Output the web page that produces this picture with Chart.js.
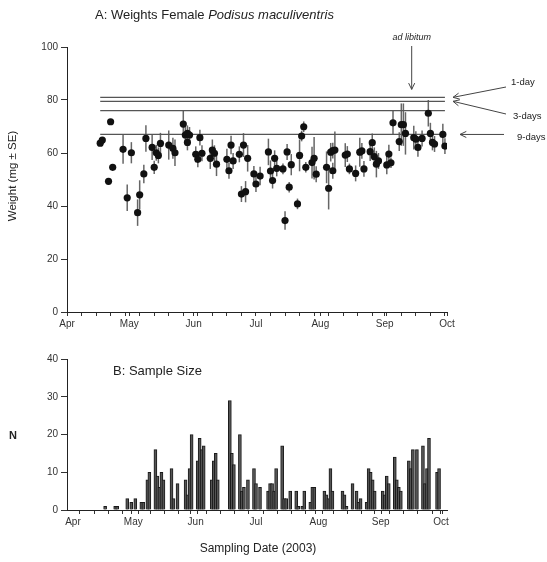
<!DOCTYPE html>
<html>
<head>
<meta charset="utf-8">
<script src="https://cdn.jsdelivr.net/npm/chart.js@4.4.1/dist/chart.umd.min.js"></script>
<style>
    body { margin: 0; background: #fff; width: 547px; height: 562px; overflow: hidden; position: relative; }
    canvas { position: absolute; left: 0; }
    #weightChart { top: 0; }
    #sizeChart { top: 330px; }
</style>
</head>
<body>
<canvas id="weightChart" width="547" height="330"></canvas>
<canvas id="sizeChart" width="547" height="232"></canvas>
<script>
// giorni contati dal 1 aprile 2003
const monthTicks = [0, 30, 61, 91, 122, 153, 183];
const monthLabels = ['Apr', 'May', 'Jun', 'Jul', 'Aug', 'Sep', 'Oct'];

// A: pesi medi (mg) e errore standard
const weightDays = [16, 17, 20, 21, 22, 27, 29, 31, 34, 35, 37, 38, 41, 42, 43, 44, 45, 49, 51, 52,
    56, 57, 58, 58, 59, 62, 63, 64, 65, 69, 70, 71, 72, 77, 78, 79, 80, 83, 84, 85,
    86, 87, 90, 91, 93, 97, 98, 99, 100, 101, 104, 105, 106, 107, 108, 111, 112, 113, 114, 115,
    118, 119, 120, 125, 126, 127, 128, 128, 129, 134, 135, 136, 139, 141, 142, 143, 146, 147, 148, 149,
    150, 154, 155, 156, 157, 160, 161, 162, 163, 167, 168, 169, 171, 174, 175, 176, 177, 181, 182];
const weightMeans = [63.7, 64.9, 49.3, 71.8, 54.6, 61.4, 43.1, 60.1, 37.5, 44.2, 52.1, 65.5, 62.1, 54.6, 60.1, 59.1, 63.6, 63.0, 61.8, 60.1,
    70.9, 66.8, 64.0, 67.4, 66.8, 59.5, 57.6, 65.8, 59.9, 58.0, 61.1, 59.9, 55.8, 57.6, 53.3, 63.0, 57.0, 59.5, 44.5, 63.0,
    45.4, 58.0, 52.1, 48.3, 51.3, 60.4, 53.2, 49.6, 58.0, 54.2, 54.0, 34.5, 60.4, 47.1, 55.6, 40.8, 59.1, 66.4, 69.9, 54.6,
    56.4, 58.0, 52.0, 54.6, 46.7, 60.3, 53.3, 60.9, 61.1, 59.2, 59.6, 54.0, 52.3, 60.3, 60.8, 54.0, 60.5, 63.9, 58.6, 55.8,
    57.0, 55.5, 59.6, 56.3, 71.4, 64.3, 70.7, 70.7, 67.4, 65.8, 65.2, 62.1, 65.5, 75.0, 67.4, 64.0, 63.4, 67.0, 62.6];
const weightSE = [1, 1, 1, 1, 1, 5.5, 5, 4, 5, 5.5, 3.5, 5, 4.7, 2.5, 3, 3, 4, 5.5, 4, 5,
    5, 3, 3, 3, 3, 3, 3, 3, 3, 4, 4, 3, 4.5, 4, 3, 3.5, 3, 3, 3, 4.5,
    4, 5, 3, 3, 3.5, 5, 4, 3, 3, 3, 2, 3.5, 3, 2, 4, 2, 6, 2, 2, 2,
    6, 8, 3, 6, 8, 3.5, 3, 3, 7, 4.5, 3, 2, 3, 5.5, 3, 3, 3.5, 3.5, 3.5, 5,
    3, 3.5, 3.5, 2, 4.5, 3.5, 8, 8, 8, 4.5, 3, 3.5, 3, 5, 4, 3, 3, 4, 3];

// linee di riferimento (1-day, 3-days, ad libitum, 9-days)
const refLevels = [81, 79.5, 76, 67];
const refStart = 16;
const refEnd = 182;

// B: numerosità del campione
const sampleDays = [16, 21, 22, 27, 29, 31, 34, 35, 37, 38, 41, 42, 43, 44, 45, 49, 50, 52, 56, 57,
    58, 59, 62, 63, 64, 65, 69, 70, 71, 72, 78, 79, 80, 83, 84, 85, 87, 90, 91, 93,
    97, 98, 99, 100, 101, 104, 105, 106, 108, 111, 112, 114, 115, 118, 119, 120, 125, 126, 127, 128,
    129, 134, 135, 136, 139, 141, 142, 143, 146, 147, 148, 149, 150, 154, 155, 156, 157, 160, 161, 162,
    163, 167, 168, 169, 171, 174, 175, 176, 177, 181, 182];
const sampleN = [1, 1, 1, 3, 2, 3, 2, 2, 8, 10, 16, 9, 6, 10, 8, 11, 3, 7, 8, 4,
    11, 20, 13, 19, 16, 17, 8, 13, 15, 8, 29, 15, 12, 20, 5, 6, 8, 11, 7, 6,
    5, 7, 7, 5, 11, 17, 3, 3, 5, 5, 1, 1, 5, 2, 6, 6, 5, 4, 3, 11,
    5, 5, 4, 1, 7, 5, 2, 3, 2, 11, 10, 8, 5, 5, 4, 9, 7, 14, 8, 6,
    5, 13, 11, 16, 16, 17, 7, 11, 19, 10, 11];

const FONT = "'Liberation Sans', Arial, sans-serif";
const INK = '#222';

// tacche settimanali più quelle di inizio mese
const axisTicks = [...monthTicks];
for (let d = 0; d <= 182; d += 7) {
    if (!axisTicks.includes(d)) axisTicks.push(d);
}
axisTicks.sort((a, b) => a - b);

function dateAxis(height) {
    return {
        type: 'linear',
        min: 0,
        max: 183,
        afterBuildTicks: scale => { scale.ticks = axisTicks.map(v => ({ value: v })); },
        afterFit: scale => { scale.height = height; },
        grid: { drawOnChartArea: false, drawTicks: true, tickLength: 4, color: '#333' },
        border: { display: true, color: INK, width: 1 },
        ticks: {
            autoSkip: false,
            maxRotation: 0,
            padding: 2,
            color: '#333',
            font: { family: FONT, size: 10 },
            callback: function (value) {
                const i = monthTicks.indexOf(value);
                return i >= 0 ? monthLabels[i] : '';
            }
        }
    };
}

function valueAxis(max, step) {
    return {
        min: 0,
        max: max,
        afterFit: scale => { scale.width = 67; },
        grid: { drawOnChartArea: false, drawTicks: true, tickLength: 6, color: '#333' },
        border: { display: true, color: INK, width: 1 },
        ticks: { stepSize: step, padding: 3, color: '#333', font: { family: FONT, size: 10 } }
    };
}

function arrow(ctx, x1, y1, x2, y2) {
    const a = Math.atan2(y2 - y1, x2 - x1);
    const h = 7;
    ctx.beginPath();
    ctx.moveTo(x1, y1);
    ctx.lineTo(x2, y2);
    ctx.moveTo(x2 - h * Math.cos(a - 0.45), y2 - h * Math.sin(a - 0.45));
    ctx.lineTo(x2, y2);
    ctx.lineTo(x2 - h * Math.cos(a + 0.45), y2 - h * Math.sin(a + 0.45));
    ctx.stroke();
}

const errorBars = {
    id: 'errorBars',
    beforeDatasetsDraw(chart) {
        const { ctx, scales: { x, y } } = chart;
        ctx.save();
        ctx.strokeStyle = '#666';
        ctx.lineWidth = 1.5;
        weightDays.forEach((d, i) => {
            const px = x.getPixelForValue(d);
            ctx.beginPath();
            ctx.moveTo(px, y.getPixelForValue(weightMeans[i] - weightSE[i]));
            ctx.lineTo(px, y.getPixelForValue(weightMeans[i] + weightSE[i]));
            ctx.stroke();
        });
        ctx.restore();
    }
};

const weightText = {
    id: 'weightText',
    afterDraw(chart) {
        const { ctx, scales: { x, y } } = chart;
        ctx.save();
        ctx.fillStyle = INK;
        ctx.strokeStyle = '#444';
        ctx.lineWidth = 1;

        // titolo con nome della specie in corsivo
        ctx.font = `13px ${FONT}`;
        ctx.textAlign = 'left';
        ctx.textBaseline = 'alphabetic';
        const part = 'A: Weights Female ';
        ctx.fillText(part, 95, 19);
        const w = ctx.measureText(part).width;
        ctx.font = `italic 13px ${FONT}`;
        ctx.fillText('Podisus maculiventris', 95 + w, 19);

        // titolo asse y
        ctx.font = `11.5px ${FONT}`;
        ctx.save();
        ctx.translate(16, 176);
        ctx.rotate(-Math.PI / 2);
        ctx.textAlign = 'center';
        ctx.fillText('Weight (mg \u00b1 SE)', 0, 0);
        ctx.restore();

        // ad libitum
        const ax = x.getPixelForValue(166);
        ctx.font = `italic 9px ${FONT}`;
        ctx.textAlign = 'center';
        ctx.fillText('ad libitum', ax, 40);
        arrow(ctx, ax, 46, ax, y.getPixelForValue(84));

        // etichette a destra
        ctx.font = `9.5px ${FONT}`;
        ctx.textAlign = 'left';
        ctx.fillText('1-day', 511, 85);
        ctx.fillText('3-days', 513, 119);
        ctx.fillText('9-days', 517, 140);
        const right = x.right;
        arrow(ctx, 506, 87, right + 6, y.getPixelForValue(refLevels[0]));
        arrow(ctx, 506, 114, right + 6, y.getPixelForValue(refLevels[1]));
        arrow(ctx, 504, y.getPixelForValue(refLevels[3]), right + 13, y.getPixelForValue(refLevels[3]));
        ctx.restore();
    }
};

const sizeText = {
    id: 'sizeText',
    afterDraw(chart) {
        const { ctx, chartArea } = chart;
        ctx.save();
        ctx.fillStyle = INK;
        ctx.font = `13px ${FONT}`;
        ctx.textAlign = 'left';
        ctx.fillText('B: Sample Size', 113, 45);
        ctx.font = `bold 11px ${FONT}`;
        ctx.textAlign = 'center';
        ctx.fillText('N', 13, 109);
        ctx.font = `12px ${FONT}`;
        ctx.fillText('Sampling Date (2003)', (chartArea.left + chartArea.right) / 2 + 1, 222);
        ctx.restore();
    }
};

const refDatasets = refLevels.map(level => ({
    type: 'line',
    data: [{ x: refStart, y: level }, { x: refEnd, y: level }],
    borderColor: '#555',
    borderWidth: 1.3,
    pointRadius: 0,
    order: 2
}));

new Chart(document.getElementById('weightChart'), {
    type: 'scatter',
    data: {
        datasets: [
            {
                data: weightDays.map((d, i) => ({ x: d, y: weightMeans[i] })),
                backgroundColor: '#111',
                borderWidth: 0,
                pointRadius: 3.6,
                order: 1
            },
            ...refDatasets
        ]
    },
    options: {
        responsive: false,
        animation: false,
        devicePixelRatio: 1,
        layout: { padding: { top: 47, right: 100, left: 0, bottom: 0 } },
        scales: {
            x: dateAxis(18),
            y: valueAxis(100, 20)
        },
        plugins: { legend: { display: false }, tooltip: { enabled: false } }
    },
    plugins: [errorBars, weightText]
});

new Chart(document.getElementById('sizeChart'), {
    type: 'bar',
    data: {
        datasets: [{
            data: sampleDays.map((d, i) => ({ x: d, y: sampleN[i] })),
            backgroundColor: '#555',
            borderColor: '#1a1a1a',
            borderWidth: 1,
            barThickness: 3
        }]
    },
    options: {
        responsive: false,
        animation: false,
        devicePixelRatio: 1,
        layout: { padding: { top: 29, right: 100, left: 0, bottom: 0 } },
        scales: {
            x: dateAxis(52),
            y: valueAxis(40, 10)
        },
        plugins: { legend: { display: false }, tooltip: { enabled: false } }
    },
    plugins: [sizeText]
});
</script>
</body>
</html>
